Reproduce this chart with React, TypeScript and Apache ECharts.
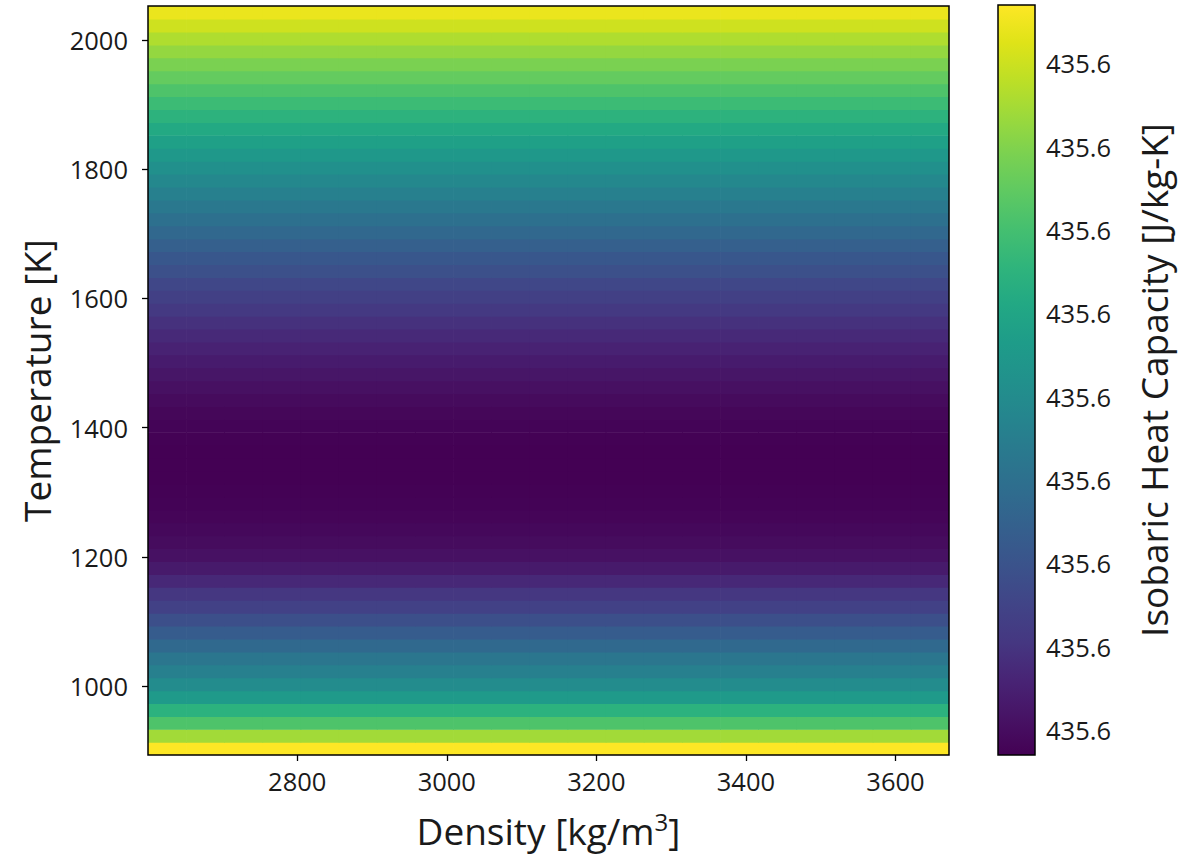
import React, { useEffect, useRef } from "react";
import * as echarts from "echarts";

// Temperature rows [K] (cell centres)
const temperatures = [
  903, 923, 943, 963, 983, 1003, 1023, 1043, 1063, 1083, 1103, 1123, 1143, 1163, 1183,
  1203, 1223, 1243, 1263, 1283, 1303, 1323, 1343, 1363, 1383, 1403, 1423, 1443, 1463,
  1483, 1503, 1523, 1543, 1563, 1583, 1603, 1623, 1643, 1663, 1683, 1703, 1723, 1743,
  1763, 1783, 1803, 1823, 1843, 1863, 1883, 1903, 1923, 1943, 1963, 1983, 2003, 2023, 2043,
];

// Density columns [kg/m^3] (cell centres)
const densities = [
  2626, 2677, 2728, 2779, 2830, 2881, 2932, 2983, 3034, 3085, 3136, 3187, 3238, 3289,
  3340, 3391, 3442, 3493, 3544, 3595, 3646,
];

// Isobaric heat capacity above 435.6 J/kg-K, in micro J/kg-K, per temperature row
const cpExcess = [
  47, 34.4, 21.8, 14.6, 5.6, 0.2, -4.3, -7.9, -12.4, -16.9, -21.4, -25.9, -29.5, -33.1,
  -36.7, -39.0, -40.3, -41.2, -41.9, -42.4, -42.7, -43, -43, -42.9, -42.8, -42.3, -41.6,
  -40.5, -39.2, -37.8, -36.3, -34.6, -32.8, -31.0, -28.8, -26.5, -24.0, -21.3, -18.6,
  -15.7, -12.9, -10.0, -7.1, -4.2, -1.3, 1.7, 4.8, 8.0, 11.3, 14.7, 18.2, 21.8, 25.4, 29.0,
  32.6, 36.2, 40.3, 44.3,
];

const CP_BASE = 435.6;
const CB_MIN = -43;
const CB_MAX = 47;
const cbTicks = [-40, -30, -20, -10, 0, 10, 20, 30, 40];

const xTicks = [2800, 3000, 3200, 3400, 3600];
const yTicks = [1000, 1200, 1400, 1600, 1800, 2000];

const X_MIN = 2600.5;
const X_MAX = 3671.5;
const Y_MIN = 893;
const Y_MAX = 2053;
const CELL_W = 51;
const CELL_H = 20;

const viridis = [
  "#440154", "#471365", "#482475", "#453781", "#414487", "#3b528b", "#355f8d",
  "#2f6c8e", "#2a788e", "#25858e", "#21918c", "#1e9c89", "#22a884", "#2fb47c",
  "#44bf70", "#5ec962", "#7ad151", "#9bd93c", "#bddf26", "#dfe318", "#fde725",
];

const FONT = "Open Sans";
const TXT = "#1a1a1a";
const TICK_FS = 25.5;
const TITLE_FS = 37;

export default function App() {
  const ref = useRef<HTMLDivElement>(null);

  useEffect(() => {
    if (!ref.current) return;
    const chart = echarts.init(ref.current, undefined, { renderer: "svg" });

    const cells: number[][] = [];
    temperatures.forEach((t, i) => {
      densities.forEach((d) => {
        cells.push([d, t, cpExcess[i]]);
      });
    });

    const gradStops = viridis.map((c, i) => ({ offset: i / (viridis.length - 1), color: c }));

    const option: any = {
      animation: false,
      backgroundColor: "#ffffff",
      textStyle: { fontFamily: FONT },
      grid: [
        { left: 148, right: 242, top: 6, bottom: 101, show: true, z: 5, borderColor: "#000", borderWidth: 1.5, backgroundColor: "transparent" },
        { left: 998, width: 37, top: 5, height: 750, show: true, z: 5, borderColor: "#000", borderWidth: 1.5, backgroundColor: "transparent" },
      ],
      xAxis: [
        {
          type: "value",
          gridIndex: 0,
          min: X_MIN,
          max: X_MAX,
          name: "{a|Density [kg/m}{s|3}{a|]}",
          nameLocation: "middle",
          nameGap: 50,
          nameTextStyle: {
            rich: {
              a: { fontSize: TITLE_FS, fontFamily: FONT, color: TXT, lineHeight: 44, verticalAlign: "bottom" },
              s: { fontSize: 24, fontFamily: FONT, color: TXT, lineHeight: 44, verticalAlign: "bottom", padding: [0, 0, 16, 0] },
            },
          },
          axisLine: { show: false },
          axisTick: { show: true, length: 6, inside: false, customValues: xTicks, lineStyle: { color: "#000", width: 1.3 } },
          axisLabel: {
            customValues: xTicks,
            fontSize: TICK_FS,
            fontFamily: FONT,
            color: TXT,
            margin: 13,
            formatter: (v: number) => String(v),
          },
          splitLine: { show: false },
        },
        { type: "value", gridIndex: 1, min: 0, max: 1, show: false },
      ],
      yAxis: [
        {
          type: "value",
          gridIndex: 0,
          min: Y_MIN,
          max: Y_MAX,
          name: "Temperature [K]",
          nameLocation: "middle",
          nameGap: 93,
          nameRotate: 90,
          nameTextStyle: { fontSize: TITLE_FS, fontFamily: FONT, color: TXT },
          axisLine: { show: false },
          axisTick: { show: true, length: 6, customValues: yTicks, lineStyle: { color: "#000", width: 1.3 } },
          axisLabel: {
            customValues: yTicks,
            fontSize: TICK_FS,
            fontFamily: FONT,
            color: TXT,
            margin: 20,
            formatter: (v: number) => String(v),
          },
          splitLine: { show: false },
        },
        {
          type: "value",
          gridIndex: 1,
          min: CB_MIN,
          max: CB_MAX,
          position: "right",
          name: "Isobaric Heat Capacity [J/kg-K]",
          nameLocation: "middle",
          nameGap: 100,
          nameRotate: 90,
          nameTextStyle: { fontSize: TITLE_FS, fontFamily: FONT, color: TXT },
          axisLine: { show: false },
          axisTick: { show: true, length: 6, customValues: cbTicks, lineStyle: { color: "#000", width: 1.3 } },
          axisLabel: {
            customValues: cbTicks,
            fontSize: TICK_FS,
            fontFamily: FONT,
            color: TXT,
            margin: 11,
            formatter: (v: number) => (CP_BASE + v * 1e-6).toFixed(1),
          },
          splitLine: { show: false },
        },
      ],
      visualMap: {
        show: false,
        type: "continuous",
        seriesIndex: 0,
        dimension: 2,
        min: CB_MIN,
        max: CB_MAX,
        inRange: { color: viridis },
      },
      series: [
        {
          type: "custom",
          xAxisIndex: 0,
          yAxisIndex: 0,
          z: 1,
          clip: true,
          data: cells,
          renderItem: (params: any, api: any) => {
            const x = api.value(0);
            const y = api.value(1);
            const p1 = api.coord([x - CELL_W / 2, y + CELL_H / 2]);
            const p2 = api.coord([x + CELL_W / 2, y - CELL_H / 2]);
            return {
              type: "rect",
              shape: { x: p1[0], y: p1[1], width: p2[0] - p1[0] + 0.7, height: p2[1] - p1[1] + 0.7 },
              style: { fill: api.visual("color") },
            };
          },
        },
        {
          type: "custom",
          xAxisIndex: 1,
          yAxisIndex: 1,
          z: 1,
          data: [[0, CB_MIN, CB_MAX]],
          renderItem: (params: any, api: any) => {
            const p1 = api.coord([0, api.value(2)]);
            const p2 = api.coord([1, api.value(1)]);
            return {
              type: "rect",
              shape: { x: p1[0], y: p1[1], width: p2[0] - p1[0], height: p2[1] - p1[1] },
              style: { fill: new echarts.graphic.LinearGradient(0, 1, 0, 0, gradStops) },
            };
          },
        },
      ],
    };

    chart.setOption(option);
    return () => chart.dispose();
  }, []);

  return (
    <div
      ref={ref}
      style={{ position: "fixed", left: 0, top: 0, width: 1191, height: 856, background: "#fff" }}
    />
  );
}
